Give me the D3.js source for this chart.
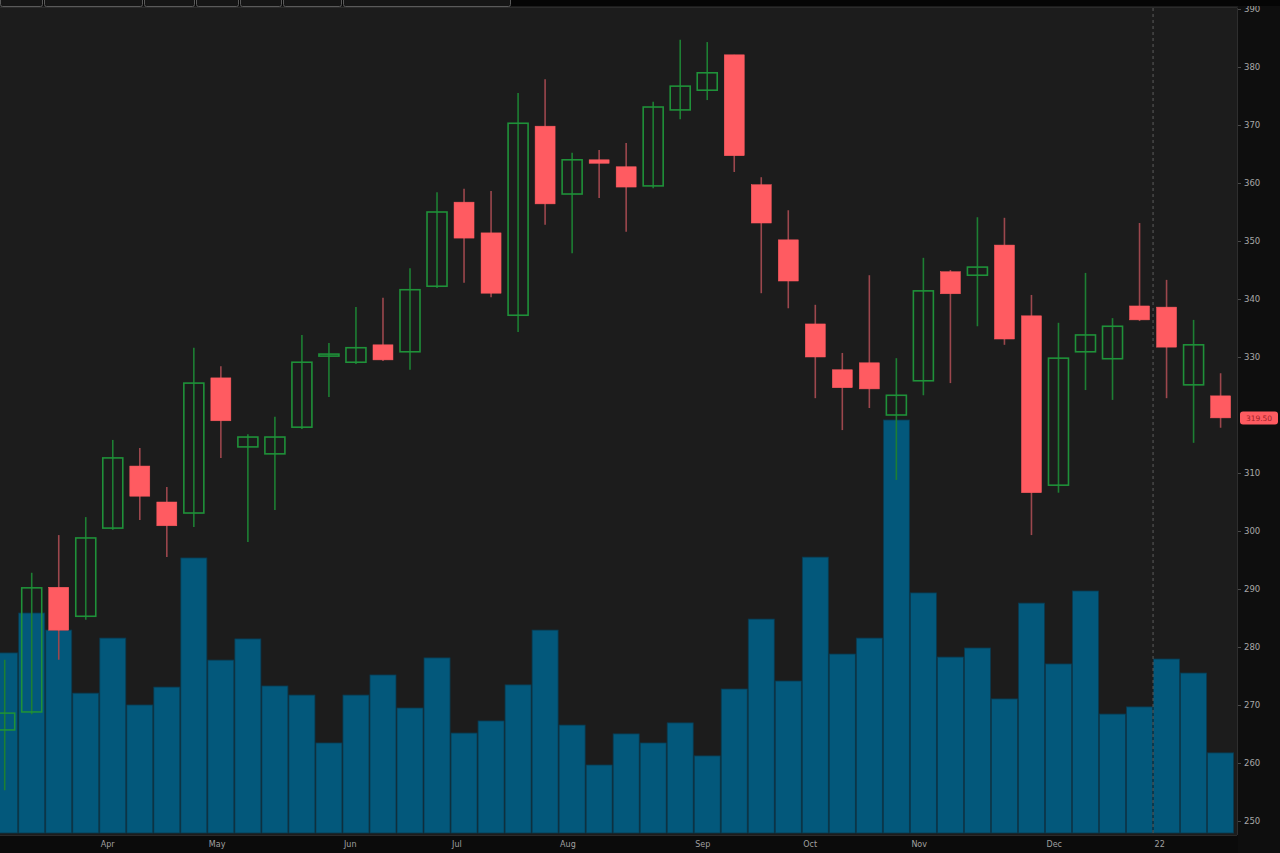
<!DOCTYPE html>
<html>
<head>
<meta charset="utf-8">
<script src="https://cdn.jsdelivr.net/npm/d3@7"></script>
<style>
  html, body { margin: 0; padding: 0; background: #1c1c1c; }
  svg { display: block; }
</style>
</head>
<body>
<svg id="chart" width="1280" height="853"></svg>
<script>
// ---------- data (weekly candles) ----------
const weeks = ["2021-03-08","2021-03-15","2021-03-22","2021-03-29","2021-04-05","2021-04-12","2021-04-19","2021-04-26",
  "2021-05-03","2021-05-10","2021-05-17","2021-05-24","2021-05-31","2021-06-07","2021-06-14","2021-06-21","2021-06-28",
  "2021-07-05","2021-07-12","2021-07-19","2021-07-26","2021-08-02","2021-08-09","2021-08-16","2021-08-23","2021-08-30",
  "2021-09-06","2021-09-13","2021-09-20","2021-09-27","2021-10-04","2021-10-11","2021-10-18","2021-10-25",
  "2021-11-01","2021-11-08","2021-11-15","2021-11-22","2021-11-29","2021-12-06","2021-12-13","2021-12-20","2021-12-27",
  "2022-01-03","2022-01-10","2022-01-17"];
const open  = [265.7,268.8,290.3,285.3,300.5,311.2,305.0,303.1,326.4,314.5,313.3,317.9,330.2,329.1,332.1,330.9,342.2,356.7,351.4,337.2,369.8,358.1,364.0,362.8,359.5,372.6,376.0,382.1,359.7,350.2,335.7,327.8,329.0,320.0,325.9,344.7,344.1,349.3,337.1,307.9,330.9,329.7,338.8,338.6,325.2,323.3];
const high  = [277.8,292.8,299.3,302.4,315.7,314.3,307.6,331.6,328.4,316.7,319.7,333.8,332.4,338.6,340.2,345.3,358.4,359.0,358.6,375.5,377.9,365.2,365.7,366.9,374.0,384.7,384.3,382.1,361.0,355.3,339.0,330.7,344.1,329.8,347.1,345.0,354.1,354.0,340.7,335.9,344.5,336.7,353.1,343.3,336.4,327.2];
const low   = [255.3,268.4,277.8,284.7,300.2,301.9,295.5,300.7,312.6,298.1,303.6,317.6,323.1,328.8,329.3,327.8,341.9,342.8,340.3,334.3,352.8,347.9,357.4,351.6,359.1,371.0,374.3,361.9,341.0,338.4,322.9,317.4,321.2,308.8,323.4,325.5,335.3,332.1,299.3,306.6,324.3,322.6,336.2,322.9,315.2,317.8];
const close = [268.6,290.2,282.9,298.8,312.6,306.0,300.9,325.5,319.0,316.2,316.2,329.1,330.5,331.6,329.5,341.6,355.0,350.5,341.0,370.3,356.4,364.0,363.4,359.3,373.1,376.7,379.0,364.7,353.1,343.1,330.0,324.7,324.5,323.4,341.4,340.9,345.5,333.1,306.6,329.8,333.8,335.3,336.4,331.7,332.1,319.5];
const volume = [65.4,79.9,73.7,50.8,70.8,46.5,53.0,99.9,62.8,70.5,53.4,50.1,32.7,50.1,57.4,45.4,63.6,36.3,40.7,53.8,73.7,39.2,24.7,36.0,32.7,40.0,28.0,52.3,77.7,55.2,100.2,65.0,70.8,150.0,87.2,63.9,67.2,48.7,83.5,61.4,87.9,43.2,45.8,63.2,58.1,29.1];
// 320 is hidden under the last-price badge in the reference
const priceTicks = [390,380,370,360,350,340,330,310,300,290,280,270,260,250];
const monthLabels = ["Apr","May","Jun","Jul","Aug","Sep","Oct","Nov","Dec","22"];
const monthWeeks  = ["2021-04-05","2021-05-03","2021-06-07","2021-07-05","2021-08-02","2021-09-06","2021-10-04","2021-11-01","2021-12-06","2022-01-03"];
const toolbarEdges = [0,42,44,142,144,194,196,238,240,281,283,341,343,510];

// ---------- setup ----------
const W = 1280, H = 853;
const plotRight = 1237, plotTop = 8, plotBottom = 835;
const parse = d3.utcParse("%Y-%m-%d");
const dates = weeks.map(parse);
const candles = dates.map((d, i) => ({d, o: open[i], h: high[i], l: low[i], c: close[i], v: volume[i]}));

const svg = d3.select("#chart");

const x = d3.scaleUtc().domain([dates[0], dates[dates.length - 1]]).range([4.7, 1220.6]);
const slot = x(dates[1]) - x(dates[0]);
const y = d3.scaleLinear().domain([250, 380]).range([821, 67]);
const yv = d3.scaleLinear().domain([0, 150]).range([833, 420]);

// backgrounds
svg.append("rect").attr("x", 0).attr("y", 0).attr("width", W).attr("height", H).attr("fill", "#1c1c1c");
svg.append("rect").attr("x", plotRight + 1).attr("y", 0).attr("width", W - plotRight - 1).attr("height", H).attr("fill", "#0e0e0e");
svg.append("rect").attr("x", 0).attr("y", plotBottom).attr("width", plotRight + 1).attr("height", H - plotBottom).attr("fill", "#0b0b0b");

const plot = svg.append("g");
plot.append("clipPath").attr("id", "clip").append("rect")
  .attr("x", 0).attr("y", plotTop).attr("width", plotRight).attr("height", plotBottom - plotTop);
const clipped = plot.append("g").attr("clip-path", "url(#clip)");

// volume bars
const bw = slot - 1;
clipped.append("g").selectAll("rect").data(candles).join("rect")
  .attr("x", d => x(d.d) - bw / 2)
  .attr("y", d => yv(d.v))
  .attr("width", bw)
  .attr("height", d => yv(0) - yv(d.v))
  .attr("fill", "#03587b")
  .attr("stroke", "#0a3a4f")
  .attr("stroke-width", 0.8);

// year separator (dashed)
const sepX = (x(dates[42]) + x(dates[43])) / 2;
clipped.append("line")
  .attr("x1", sepX).attr("x2", sepX).attr("y1", plotTop).attr("y2", plotBottom)
  .attr("stroke", "#6d6d6d").attr("stroke-width", 1).attr("stroke-dasharray", "3,3").attr("opacity", 0.8);

// candles
const cw = 20;
const upStroke = "#1f9139", upWick = "#1d7f33", downFill = "#ff5b61", downWick = "#9c474d";
const cg = clipped.append("g").selectAll("g").data(candles).join("g");
cg.append("line")
  .attr("x1", d => x(d.d)).attr("x2", d => x(d.d))
  .attr("y1", d => y(d.h)).attr("y2", d => y(d.l))
  .attr("stroke", d => d.c >= d.o ? upWick : downWick)
  .attr("stroke-width", 1.6);
cg.append("rect")
  .attr("x", d => x(d.d) - cw / 2)
  .attr("y", d => y(Math.max(d.o, d.c)))
  .attr("width", cw)
  .attr("height", d => Math.max(2, Math.abs(y(d.o) - y(d.c))))
  .attr("fill", d => d.c >= d.o ? "#1c1c1c" : downFill)
  .attr("fill-opacity", d => d.c >= d.o ? 0 : 1)
  .attr("stroke", d => d.c >= d.o ? upStroke : downFill)
  .attr("stroke-width", d => d.c >= d.o ? 1.6 : 0.5);

// plot borders
svg.append("line").attr("x1", plotRight + 0.5).attr("x2", plotRight + 0.5).attr("y1", plotTop).attr("y2", plotBottom)
  .attr("stroke", "#2e2e2e");
svg.append("line").attr("x1", 0).attr("x2", plotRight).attr("y1", plotBottom + 0.5).attr("y2", plotBottom + 0.5)
  .attr("stroke", "#2a2a2a");

// price axis (right)
const yAxis = d3.axisRight(y).tickValues(priceTicks).tickSize(3).tickPadding(3).tickFormat(d3.format("d"));
const ya = svg.append("g").attr("transform", `translate(${plotRight + 1},0)`).call(yAxis);
ya.select(".domain").remove();
ya.selectAll(".tick line").attr("stroke", "#4a4a4a");
ya.selectAll(".tick text").attr("fill", "#a8a8a8").attr("font-family", "DejaVu Sans, sans-serif").attr("font-size", 8.5);

// time axis (bottom)
const xAxis = d3.axisBottom(x).tickValues(monthWeeks.map(parse)).tickSize(0).tickPadding(6)
  .tickFormat((d, i) => monthLabels[i]);
const xa = svg.append("g").attr("transform", `translate(0,${plotBottom})`).call(xAxis);
xa.select(".domain").remove();
xa.selectAll(".tick text").attr("fill", "#a0a0a0").attr("font-family", "DejaVu Sans, sans-serif").attr("font-size", 8)
  .attr("text-anchor", "start").attr("dx", -(slot / 2) + 1);

// last price label
const last = candles[candles.length - 1];
const lp = svg.append("g").attr("transform", `translate(${plotRight + 3},${y(last.c)})`);
lp.append("rect").attr("x", 0).attr("y", -6.5).attr("width", 38).attr("height", 13).attr("rx", 3)
  .attr("fill", "#ff5b61");
lp.append("text").attr("x", 19).attr("y", 0).attr("dy", "0.35em").attr("text-anchor", "middle")
  .attr("font-family", "DejaVu Sans, sans-serif").attr("font-size", 7.5).attr("fill", "#9e1f27")
  .text(d3.format(".2f")(last.c));

// top toolbar strip
svg.append("rect").attr("x", 0).attr("y", 0).attr("width", W).attr("height", 6).attr("fill", "#050505");
svg.append("line").attr("x1", 0).attr("x2", plotRight).attr("y1", plotTop - 0.5).attr("y2", plotTop - 0.5)
  .attr("stroke", "#2b2b2b");
const tb = svg.append("g");
for (let i = 0; i < toolbarEdges.length; i += 2) {
  tb.append("rect").attr("x", toolbarEdges[i] + 0.5).attr("y", -3).attr("width", toolbarEdges[i + 1] - toolbarEdges[i])
    .attr("height", 9.5).attr("rx", 2).attr("fill", "#161616").attr("stroke", "#5a5a5a").attr("stroke-width", 1);
}
</script>
</body>
</html>
